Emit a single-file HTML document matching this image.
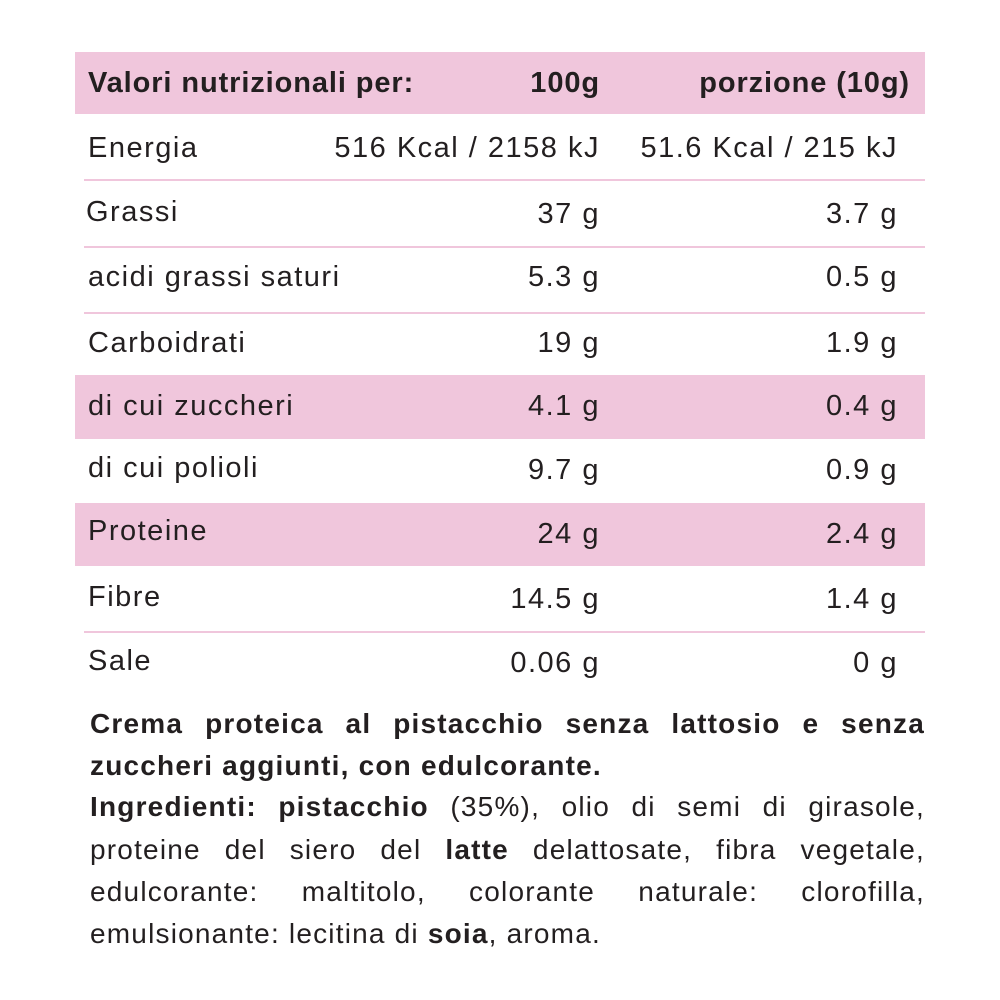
<!DOCTYPE html>
<html><head><meta charset="utf-8"><style>
body{margin:0;width:1000px;height:1000px;background:#fff;position:relative;font-family:"Liberation Sans",sans-serif;color:#231f20;overflow:hidden}
.band{position:absolute;left:75px;width:850px;background:#f0c6dc}
.line{position:absolute;left:84px;width:841px;height:2px;background:#f0c6dc}
.t{position:absolute;font-size:29px;line-height:30px;white-space:nowrap;letter-spacing:1.5px}
.l{left:88px}
.a{right:400px;text-align:right}
.b{right:102px;text-align:right}
.h{font-weight:bold;letter-spacing:0.9px}
.pl{position:absolute;left:90px;width:835px;font-size:28px;line-height:30px;letter-spacing:1.2px;white-space:nowrap}
.j{text-align:justify;text-align-last:justify;white-space:normal}
</style></head><body>
<div class="band" style="top:52px;height:62px"></div>
<div class="band" style="top:375px;height:64px"></div>
<div class="band" style="top:503px;height:63px"></div>
<div class="line" style="top:179px"></div>
<div class="line" style="top:246px"></div>
<div class="line" style="top:312px"></div>
<div class="line" style="top:631px"></div>

<div class="t l h" style="top:68px">Valori nutrizionali per:</div>
<div class="t a h" style="top:68px">100g</div>
<div class="t b h" style="top:68px;right:90px">porzione (10g)</div>

<div class="t l" style="top:133px">Energia</div><div class="t a" style="top:133px">516 Kcal / 2158 kJ</div><div class="t b" style="top:133px">51.6 Kcal / 215 kJ</div>
<div class="t l" style="top:197px;left:86px">Grassi</div><div class="t a" style="top:199px">37 g</div><div class="t b" style="top:199px">3.7 g</div>
<div class="t l" style="top:262px">acidi grassi saturi</div><div class="t a" style="top:262px">5.3 g</div><div class="t b" style="top:262px">0.5 g</div>
<div class="t l" style="top:328px">Carboidrati</div><div class="t a" style="top:328px">19 g</div><div class="t b" style="top:328px">1.9 g</div>
<div class="t l" style="top:391px">di cui zuccheri</div><div class="t a" style="top:391px">4.1 g</div><div class="t b" style="top:391px">0.4 g</div>
<div class="t l" style="top:453px">di cui polioli</div><div class="t a" style="top:455px">9.7 g</div><div class="t b" style="top:455px">0.9 g</div>
<div class="t l" style="top:516px">Proteine</div><div class="t a" style="top:519px">24 g</div><div class="t b" style="top:519px">2.4 g</div>
<div class="t l" style="top:582px">Fibre</div><div class="t a" style="top:584px">14.5 g</div><div class="t b" style="top:584px">1.4 g</div>
<div class="t l" style="top:646px">Sale</div><div class="t a" style="top:648px">0.06 g</div><div class="t b" style="top:648px">0 g</div>

<div class="pl j" style="top:709px"><b>Crema proteica al pistacchio senza lattosio e senza</b></div>
<div class="pl" style="top:751px"><b>zuccheri aggiunti, con edulcorante.</b></div>
<div class="pl j" style="top:792px"><b>Ingredienti: pistacchio</b> (35%), olio di semi di girasole,</div>
<div class="pl j" style="top:835px">proteine del siero del <b>latte</b> delattosate, fibra vegetale,</div>
<div class="pl j" style="top:877px">edulcorante: maltitolo, colorante naturale: clorofilla,</div>
<div class="pl" style="top:919px">emulsionante: lecitina di <b>soia</b>, aroma.</div>
</body></html>
